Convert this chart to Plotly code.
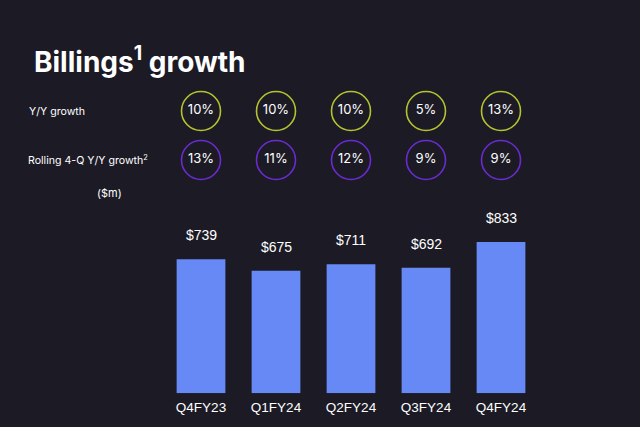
import plotly.graph_objects as go

quarters = ["Q4FY23", "Q1FY24", "Q2FY24", "Q3FY24", "Q4FY24"]
billings = [739, 675, 711, 692, 833]
yy_growth = ["10%", "10%", "10%", "5%", "13%"]
rolling_growth = ["13%", "11%", "12%", "9%", "9%"]

BG = "#1c1b25"
BAR = "#6689f5"
YEL = "#b5c42e"
PUR = "#6a2bd0"
W, H = 640, 427

def py(pix):
    return 1 - pix / H

fig = go.Figure()
fig.add_trace(go.Bar(
    x=quarters, y=billings, marker=dict(color=BAR, line=dict(width=0)),
    hoverinfo="skip", showlegend=False,
))
for q, v in zip(quarters, billings):
    fig.add_annotation(x=q, y=v, xref="x", yref="y", text=f"${v}", showarrow=False,
                       yanchor="bottom", yshift=14,
                       font=dict(family="Liberation Sans, Arial", size=14, color="#ffffff"))

fig.add_trace(go.Scatter(
    x=quarters, y=[1] * len(quarters), yaxis="y2", mode="markers+text",
    text=yy_growth, textposition="middle center",
    textfont=dict(family="Inter", size=13, color="#ffffff"),
    marker=dict(symbol="circle-open", size=39, color=YEL, line=dict(width=1.6, color=YEL)),
    hoverinfo="skip", showlegend=False,
))
fig.add_trace(go.Scatter(
    x=quarters, y=[0] * len(quarters), yaxis="y2", mode="markers+text",
    text=rolling_growth, textposition="middle center",
    textfont=dict(family="Inter", size=13, color="#ffffff"),
    marker=dict(symbol="circle-open", size=39, color=PUR, line=dict(width=1.6, color=PUR)),
    hoverinfo="skip", showlegend=False,
))

fig.add_annotation(x=32 / W, y=py(60), xref="paper", yref="paper", xanchor="left", yanchor="middle",
                   text="<b>Billings<sup>1</sup> growth</b>", showarrow=False,
                   font=dict(family="Inter", size=28, color="#ffffff"))
fig.add_annotation(x=27 / W, y=py(111), xref="paper", yref="paper", xanchor="left", yanchor="middle",
                   text="Y/Y growth", showarrow=False,
                   font=dict(family="Inter", size=10.6, color="#ffffff"))
fig.add_annotation(x=26 / W, y=py(160), xref="paper", yref="paper", xanchor="left", yanchor="middle",
                   text="Rolling 4-Q Y/Y growth<sup>2</sup>", showarrow=False,
                   font=dict(family="Inter", size=10.6, color="#ffffff"))
fig.add_annotation(x=95 / W, y=py(193), xref="paper", yref="paper", xanchor="left", yanchor="middle",
                   text="($m)", showarrow=False,
                   font=dict(family="Inter", size=11, color="#ffffff"))

fig.update_layout(
    width=W, height=H,
    paper_bgcolor=BG, plot_bgcolor=BG,
    margin=dict(l=0, r=0, t=0, b=0),
    bargap=0.35,
    xaxis=dict(domain=[163.5 / W, 538.5 / W], range=[-0.5, 4.5], autorange=False,
               showgrid=False, zeroline=False, showline=False,
               ticks="", ticklabelstandoff=4,
               tickfont=dict(family="Liberation Sans, Arial", size=13.5, color="#ffffff"),
               fixedrange=True),
    yaxis=dict(domain=[py(393.3), py(229.9)], range=[0, 900], visible=False, fixedrange=True),
    yaxis2=dict(domain=[py(200), py(80)], range=[-40 / 49, 1 + 31 / 49], visible=False,
                anchor="x", fixedrange=True),
)

fig.write_html("out.html", config={"displayModeBar": False},
               post_script="document.body.style.margin='0';document.body.style.overflow='hidden';")
